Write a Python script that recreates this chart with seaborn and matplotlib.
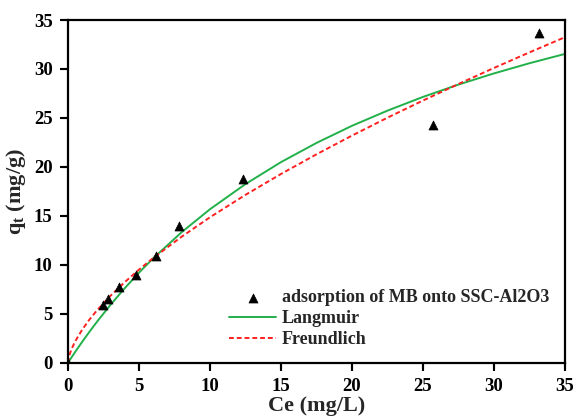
import matplotlib; matplotlib.use('Agg')
import matplotlib.pyplot as plt
import seaborn as sns
import pandas as pd

# measured points
ce_obs = [0.0, 2.5, 2.8, 3.6, 4.8, 6.2, 7.8, 12.3, 25.7, 33.2]
qt_obs = [0.0, 5.9, 6.5, 7.7, 9.0, 10.9, 14.0, 18.8, 24.3, 33.7]

# fitted curves
ce_fit = [0, 0.1, 0.25, 0.5, 1, 1.5, 2, 3, 4, 5, 6, 8, 10, 12.5, 15, 17.5, 20, 22.5, 25, 27.5, 30, 32.5, 35]
q_langmuir = [0, 0.22, 0.55, 1.09, 2.14, 3.14, 4.11, 5.93, 7.62, 9.20, 10.67, 13.33, 15.68, 18.25,
              20.49, 22.45, 24.20, 25.75, 27.15, 28.41, 29.55, 30.59, 31.54]
q_freundlich = [0, 0.77, 1.39, 2.17, 3.38, 4.39, 5.28, 6.85, 8.24, 9.51, 10.70, 12.87, 14.86, 17.15,
                19.28, 21.29, 23.20, 25.03, 26.78, 28.47, 30.11, 31.70, 33.25]

sns.set_style('ticks')
plt.rcParams['font.family'] = ['Liberation Serif', 'DejaVu Serif']
plt.rcParams['font.weight'] = 'bold'
plt.rcParams['mathtext.fontset'] = 'custom'
plt.rcParams['mathtext.rm'] = 'Liberation Serif:bold'
plt.rcParams['mathtext.bf'] = 'Liberation Serif:bold'

obs = pd.DataFrame({'Ce': ce_obs, 'qt': qt_obs})
fit = pd.DataFrame({'Ce': ce_fit, 'L': q_langmuir, 'F': q_freundlich})

fig, ax = plt.subplots(figsize=(5.76, 4.17), dpi=100)
fig.subplots_adjust(left=0.118, right=0.981, top=0.952, bottom=0.13)

sns.scatterplot(data=obs, x='Ce', y='qt', marker='^', color='black', s=42, edgecolor='black',
                ax=ax, label='adsorption of MB onto SSC-Al2O3', zorder=5)
sns.lineplot(data=fit, x='Ce', y='L', color='#22b04b', lw=1.4, ax=ax, label='Langmuir')
sns.lineplot(data=fit, x='Ce', y='F', color='#ff2020', lw=1.4, ls=(0, (2.5, 1.5)), ax=ax, label='Freundlich')

ax.set_xlim(0, 35); ax.set_ylim(0, 35)
ax.set_xticks(range(0, 36, 5)); ax.set_yticks(range(0, 36, 5))
for s in ax.spines.values():
    s.set_visible(True); s.set_color('black'); s.set_linewidth(1.6)
ax.tick_params(axis='both', direction='out', length=6, width=1.5, labelsize=13.5, pad=5,
               color='black', labelcolor='black')
for t in ax.get_xticklabels() + ax.get_yticklabels():
    t.set_fontweight('bold')

# tick marks drawn as plain segments (marker ticks don't show up here)
for xv in ax.get_xticks():
    ax.plot([xv, xv], [0, -0.018], transform=ax.get_xaxis_transform(), color='black', lw=1.5, clip_on=False)
for yv in ax.get_yticks():
    ax.plot([0, -0.012], [yv, yv], transform=ax.get_yaxis_transform(), color='black', lw=1.5, clip_on=False)

ax.set_xlabel('Ce (mg/L)', fontsize=16, fontweight='bold', labelpad=1)
ax.set_ylabel(r'q$_\mathrm{t}$ (mg/g)', fontsize=16, fontweight='bold', labelpad=4)

leg = ax.legend(loc='upper left', bbox_to_anchor=(0.31, 0.235), frameon=False, fontsize=13,
                handlelength=2.6, handletextpad=0.3, labelspacing=0.22, borderaxespad=0)
for t in leg.get_texts():
    t.set_fontweight('bold')

fig.savefig('out.png', dpi=100)
